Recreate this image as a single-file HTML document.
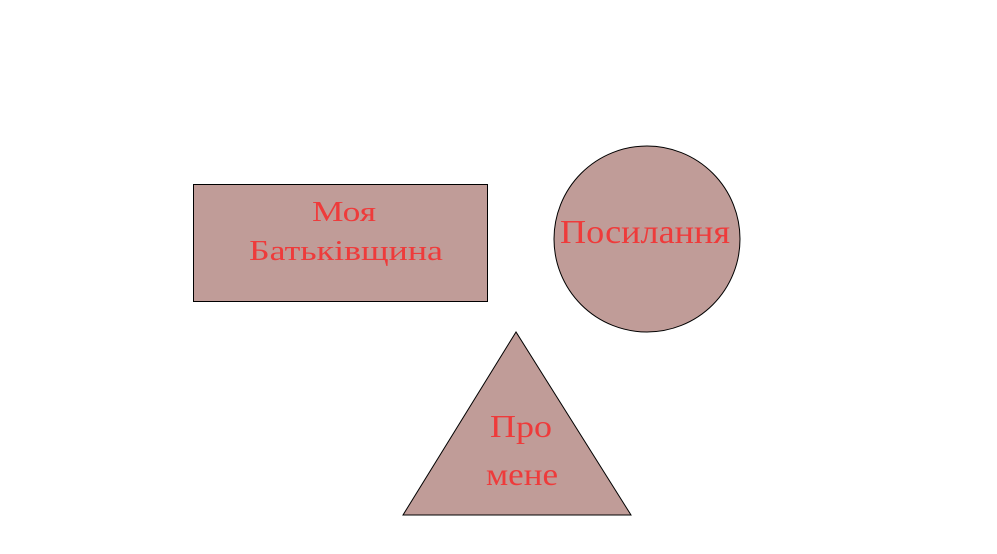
<!DOCTYPE html>
<html><head><meta charset="utf-8"><style>
html,body{margin:0;padding:0;background:#fff;width:997px;height:554px;overflow:hidden}
svg{display:block}
text{font-family:"Liberation Serif","DejaVu Serif",serif;fill:#ee3b3b}
</style></head><body>
<svg width="997" height="554">
<g>
<rect x="193.5" y="184.5" width="294" height="117" fill="#c09c98" stroke="#000" stroke-width="1"/>
<text x="344" y="221" font-size="28" text-anchor="middle" textLength="64" lengthAdjust="spacingAndGlyphs">Моя</text>
<text x="346" y="260" font-size="28" text-anchor="middle" textLength="194" lengthAdjust="spacingAndGlyphs">Батьківщина</text>
</g>
<g>
<circle cx="647" cy="239" r="93" fill="#c09c98" stroke="#000" stroke-width="1"/>
<text x="645" y="243" font-size="34" text-anchor="middle" textLength="170" lengthAdjust="spacingAndGlyphs">Посилання</text>
</g>
<g>
<polygon points="516,332 403,515 631,515" fill="#c09c98" stroke="#000" stroke-width="1"/>
<text x="521" y="437" font-size="32" text-anchor="middle" textLength="62" lengthAdjust="spacingAndGlyphs">Про</text>
<text x="522" y="485" font-size="32" text-anchor="middle" textLength="72" lengthAdjust="spacingAndGlyphs">мене</text>
</g>
</svg>
</body></html>
